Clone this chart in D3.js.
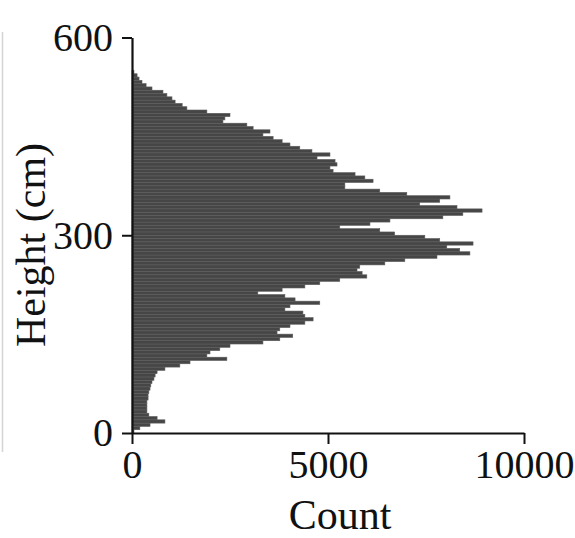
<!DOCTYPE html>
<html>
<head>
<meta charset="utf-8">
<script src="https://cdn.jsdelivr.net/npm/d3@7"></script>
<style>
  html, body { margin: 0; padding: 0; background: #fff; }
  svg { display: block; }
  text { font-family: "Liberation Serif", "Times New Roman", serif; fill: #111; }
</style>
</head>
<body>
<svg id="chart" width="575" height="538"></svg>
<script>
// Histogram data: bins of 5 cm height, counts
const binWidth = 5;
const binStarts = d3.range(0, 550, 5);
const counts = [
  50, 200, 460, 840, 640, 430, 380, 380, 380, 380,
  410, 410, 430, 460, 480, 510, 560, 590, 640, 840,
  1220, 1480, 2420, 1910, 1990, 2240, 2500, 3340, 3770, 4100,
  3700, 3770, 4030, 4410, 4620, 4410, 4360, 3900, 4030, 4790,
  4160, 3900, 3210, 3830, 4410, 4790, 5300, 5990, 5870, 5740,
  5810, 6450, 6960, 7780, 8620, 8360, 8030, 8700, 7850, 7470,
  6700, 6320, 5300, 6070, 6580, 7930, 8440, 8930, 8290, 7340,
  7850, 8110, 7010, 6320, 5430, 5430, 6150, 5940, 5690, 5130,
  5050, 5230, 5180, 4720, 5050, 4590, 4280, 4030, 3830, 3600,
  3340, 3520, 3090, 2930, 2320, 2370, 2500, 1910, 1400, 1280,
  1100, 1020, 890, 790, 510, 360, 255, 180, 130, 50
];
const xTicks = [0, 5000, 10000];
const yTicks = [0, 300, 600];
const xLabel = "Count";
const yLabel = "Height (cm)";

const svg = d3.select("#chart");
const mLeft = 132, mRight = 524, mTop = 37.5, mBottom = 433;

const x = d3.scaleLinear().domain([0, 10000]).range([mLeft, mRight]);
const y = d3.scaleLinear().domain([0, 600]).range([mBottom, mTop]);

// faint frame line at left edge
svg.append("line")
  .attr("x1", 2.5).attr("x2", 2.5).attr("y1", 32).attr("y2", 452)
  .attr("stroke", "#d4d4d4").attr("stroke-width", 1.5);

const bins = binStarts.map((s, i) => ({ h0: s, h1: s + binWidth, c: counts[i] }));

svg.append("g")
  .selectAll("rect")
  .data(bins)
  .join("rect")
  .attr("x", x(0))
  .attr("y", d => y(d.h1))
  .attr("width", d => x(d.c) - x(0))
  .attr("height", d => y(d.h0) - y(d.h1))
  .attr("fill", "#464646")
  .attr("stroke", "#5c5c5c")
  .attr("stroke-width", 0.6);

// X axis
const gx = svg.append("g")
  .attr("transform", `translate(0,${mBottom})`)
  .call(d3.axisBottom(x).tickValues(xTicks).tickSize(11).tickPadding(6).tickSizeOuter(0).tickFormat(d3.format("d")));
// Y axis
const gy = svg.append("g")
  .attr("transform", `translate(${mLeft},0)`)
  .call(d3.axisLeft(y).tickValues(yTicks).tickSize(10).tickPadding(9).tickSizeOuter(0).tickFormat(d3.format("d")));

[gx, gy].forEach(g => {
  g.select(".domain").attr("stroke", "#111").attr("stroke-width", 2.2);
  g.selectAll(".tick line").attr("stroke", "#111").attr("stroke-width", 2);
  g.selectAll(".tick text")
    .attr("font-family", "'Liberation Serif', 'Times New Roman', serif")
    .attr("font-size", 40).attr("fill", "#111");
});

svg.append("text")
  .attr("x", 340).attr("y", 529)
  .attr("text-anchor", "middle")
  .attr("font-size", 42)
  .text(xLabel);

svg.append("text")
  .attr("transform", "translate(45,245) rotate(-90)")
  .attr("text-anchor", "middle")
  .attr("font-size", 42)
  .text(yLabel);
</script>
</body>
</html>
